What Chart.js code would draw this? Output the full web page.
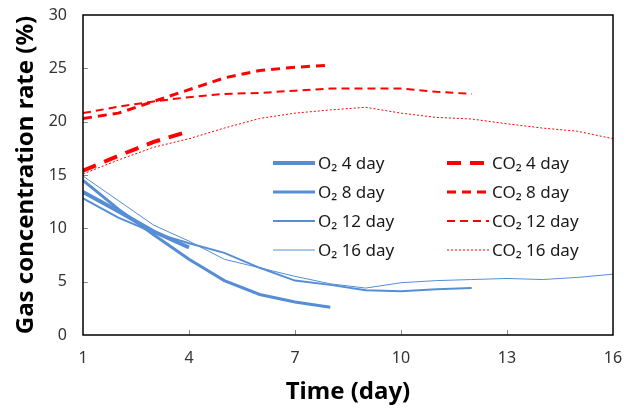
<!DOCTYPE html>
<html>
<head>
<meta charset="utf-8">
<script src="https://cdn.jsdelivr.net/npm/chart.js@4/dist/chart.umd.min.js"></script>
<style>
  html, body { margin: 0; padding: 0; background: #fff; }
  #wrap { width: 629px; height: 409px; }
</style>
</head>
<body>
<div id="wrap"><canvas id="gasChart" width="629" height="409"></canvas></div>
<script>
// days for each storage period
const days4 = [1, 2, 3, 4];
const days8 = [1, 2, 3, 4, 5, 6, 7, 8];
const days12 = [1, 2, 3, 4, 5, 6, 7, 8, 9, 10, 11, 12];
const days16 = [1, 2, 3, 4, 5, 6, 7, 8, 9, 10, 11, 12, 13, 14, 15, 16];

// O2 (%)
const o2Day4 = [13.4, 11.6, 9.7, 8.2];
const o2Day8 = [14.5, 11.8, 9.4, 7.1, 5.1, 3.8, 3.1, 2.6];
const o2Day12 = [12.8, 11.0, 9.6, 8.6, 7.7, 6.3, 5.1, 4.7, 4.2, 4.1, 4.3, 4.4];
const o2Day16 = [14.9, 12.6, 10.3, 8.8, 7.1, 6.3, 5.5, 4.8, 4.4, 4.9, 5.1, 5.2, 5.3, 5.2, 5.4, 5.7];

// CO2 (%)
const co2Day4 = [15.4, 16.8, 18.1, 19.1];
const co2Day8 = [20.3, 20.8, 21.9, 23.0, 24.1, 24.8, 25.1, 25.3];
const co2Day12 = [20.8, 21.4, 21.9, 22.3, 22.6, 22.7, 22.9, 23.1, 23.1, 23.1, 22.8, 22.6];
const co2Day16 = [15.1, 16.4, 17.6, 18.4, 19.4, 20.3, 20.8, 21.1, 21.35, 20.8, 20.4, 20.25, 19.8, 19.4, 19.1, 18.4];

const xTicks = [1, 4, 7, 10, 13, 16];
const yTicks = [0, 5, 10, 15, 20, 25, 30];

const azul = '#558ED5';
const vermelho = '#FF0000';
const fonte = "'Noto Sans', 'Open Sans', sans-serif";

function pontos(dias, valores) {
    return dias.map((d, i) => ({ x: d, y: valores[i] }));
}

function serie(label, dias, valores, cor, largura, dash) {
    return {
        label: label,
        data: pontos(dias, valores),
        borderColor: cor,
        backgroundColor: cor,
        borderWidth: largura,
        borderDash: dash,
        pointRadius: 0,
        tension: 0,
        fill: false
    };
}

// legenda em duas colunas + moldura + marcas internas
const extras = {
    id: 'extras',
    afterDraw(chart) {
        const ctx = chart.ctx;
        const area = chart.chartArea;
        const sx = chart.scales.x;
        const sy = chart.scales.y;

        ctx.save();
        ctx.strokeStyle = '#8c8c8c';
        ctx.lineWidth = 1;
        xTicks.slice(1, -1).forEach(v => {
            const px = Math.round(sx.getPixelForValue(v)) + 0.5;
            ctx.beginPath();
            ctx.moveTo(px, area.bottom);
            ctx.lineTo(px, area.bottom - 5);
            ctx.stroke();
        });
        yTicks.slice(1, -1).forEach(v => {
            const py = Math.round(sy.getPixelForValue(v)) + 0.5;
            ctx.beginPath();
            ctx.moveTo(area.left, py);
            ctx.lineTo(area.left + 5, py);
            ctx.stroke();
        });

        ctx.strokeStyle = '#000';
        ctx.lineWidth = 1.5;
        ctx.strokeRect(area.left, area.top, area.right - area.left, area.bottom - area.top);

        const colunas = [273, 447];
        const linhas = [163, 192, 221, 250];
        ctx.font = '17px ' + fonte;
        ctx.textBaseline = 'middle';
        ctx.fillStyle = '#1a1a1a';
        chart.data.datasets.forEach((ds, i) => {
            const x0 = colunas[Math.floor(i / 4)];
            const y0 = linhas[i % 4];
            ctx.beginPath();
            ctx.strokeStyle = ds.borderColor;
            ctx.lineWidth = ds.borderWidth;
            ctx.setLineDash(ds.borderDash || []);
            ctx.moveTo(x0, y0);
            ctx.lineTo(x0 + 42, y0);
            ctx.stroke();
            ctx.setLineDash([]);
            ctx.fillText(ds.label, x0 + 45, y0 + 1);
        });
        ctx.restore();
    }
};

const ctx = document.getElementById('gasChart').getContext('2d');
new Chart(ctx, {
    type: 'line',
    data: {
        datasets: [
            serie('O\u2082 4 day', days4, o2Day4, azul, 4, []),
            serie('O\u2082 8 day', days8, o2Day8, azul, 3, []),
            serie('O\u2082 12 day', days12, o2Day12, azul, 2, []),
            serie('O\u2082 16 day', days16, o2Day16, azul, 1, []),
            serie('CO\u2082 4 day', days4, co2Day4, vermelho, 4, [14, 9]),
            serie('CO\u2082 8 day', days8, co2Day8, vermelho, 3, [9, 6]),
            serie('CO\u2082 12 day', days12, co2Day12, vermelho, 2, [8, 5]),
            serie('CO\u2082 16 day', days16, co2Day16, vermelho, 1, [2, 2])
        ]
    },
    options: {
        responsive: false,
        animation: false,
        layout: {
            padding: { left: 0, top: 15, right: 16, bottom: 0 }
        },
        plugins: {
            legend: { display: false },
            tooltip: { enabled: false }
        },
        scales: {
            x: {
                type: 'linear',
                min: 1,
                max: 16,
                afterBuildTicks: s => { s.ticks = xTicks.map(v => ({ value: v })); },
                afterFit: s => { s.height = 74; s.paddingLeft = 0; s.paddingRight = 0; },
                grid: { display: false, drawTicks: false },
                border: { display: false },
                ticks: {
                    padding: 14,
                    color: '#333',
                    font: { family: fonte, size: 16 }
                },
                title: {
                    display: true,
                    text: 'Time (day)',
                    color: '#000',
                    padding: { top: 0, bottom: 2 },
                    font: { family: fonte, size: 24, weight: 'bold' }
                }
            },
            y: {
                min: 0,
                max: 30,
                afterBuildTicks: s => { s.ticks = yTicks.map(v => ({ value: v })); },
                afterFit: s => { s.width = 83; s.paddingTop = 0; s.paddingBottom = 0; },
                grid: { display: false, drawTicks: false },
                border: { display: false },
                ticks: {
                    padding: 16,
                    color: '#333',
                    font: { family: fonte, size: 16 }
                },
                title: {
                    display: true,
                    text: 'Gas concentration rate (%)',
                    color: '#000',
                    padding: { top: 12, bottom: 0 },
                    font: { family: fonte, size: 24, weight: 'bold' }
                }
            }
        }
    },
    plugins: [extras]
});
</script>
</body>
</html>
